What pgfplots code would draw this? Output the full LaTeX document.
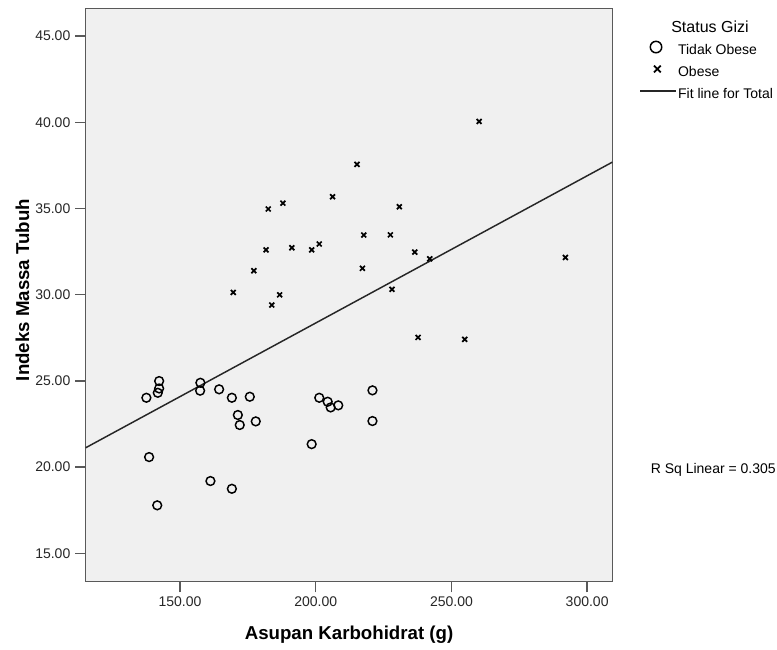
\documentclass[border=0pt]{standalone}
\usepackage{fontspec}
\setmainfont{Liberation Sans}
\usepackage{pgfplots}
\pgfplotsset{compat=1.18}
\begin{document}
\begin{tikzpicture}
\path[use as bounding box] (-64.275pt,-50.475pt) rectangle (518.475pt,436.275pt);
\begin{axis}[
  at={(0pt,0pt)}, anchor=south west,
  scale only axis, width=395pt, height=430pt,
  xmin=115.24, xmax=309.3, ymin=13.35, ymax=46.61,
  clip=false,
  xtick={150,200,250,300}, ytick={15,20,25,30,35,40,45},
  tick pos=left,
  scaled ticks=false,
  tick align=outside, major tick length=8pt,
  tick style={line width=1pt, color=black!65},
  axis line style={line width=1pt, color=black!65},
  axis background/.style={fill=black!6},
  ticklabel style={font=\fontsize{10.5}{12}\selectfont, text=black!85},
  /pgf/number format/fixed, /pgf/number format/fixed zerofill,
  /pgf/number format/precision=2, /pgf/number format/assume math mode=true,
  xlabel={Asupan Karbohidrat (g)},
  ylabel={Indeks Massa Tubuh},
  label style={font=\fontsize{14}{16}\selectfont\bfseries},
  xlabel style={at={(axis description cs:0.5,0)}, anchor=base, yshift=-43.7pt},
  ylabel style={at={(axis description cs:-0.1076,0.5088)}, anchor=base},
  legend style={at={(axis description cs:1.0506,0.943)}, anchor=north west,
    draw=none, fill=none, inner sep=0pt, row sep=4.5pt,
    font=\fontsize{10.5}{12}\selectfont,
    nodes={inner sep=1pt, text height=7.5pt, text depth=2.5pt},
    cells={anchor=west}},
]
\addplot[only marks, mark=o, mark size=3.3pt, mark options={line width=1.1pt, black},
  legend image code/.code={\path (0pt,0pt) (27pt,0pt);
    \draw[black, line width=0.9pt] plot[mark=o, mark size=4.3pt] coordinates {(12pt,3pt)};}]
coordinates {
(142.3,24.99) (142.3,24.56) (141.8,24.31) (137.6,24.02) (157.5,24.89) (157.4,24.43)
(164.4,24.51) (169.1,24.02) (175.7,24.08) (171.3,23.02) (172.0,22.44) (177.9,22.65)
(201.3,24.02) (204.4,23.79) (205.5,23.46) (208.3,23.58) (220.9,24.45) (220.9,22.67)
(198.5,21.33) (138.6,20.58) (161.2,19.19) (169.1,18.74) (141.6,17.78)
};
\addplot[only marks, mark=x, mark size=2.6pt, mark options={line width=1.3pt, black},
  legend image code/.code={\path (0pt,0pt) (27pt,0pt);
    \draw[black, line width=1pt] plot[mark=x, mark size=3.6pt] coordinates {(13pt,3pt)};}]
coordinates {
(182.5,34.97) (187.9,35.31) (206.2,35.68) (181.7,32.60) (191.2,32.72) (198.5,32.60)
(201.3,32.94) (177.2,31.39) (169.6,30.13) (186.7,29.99) (183.8,29.40) (260.2,40.05)
(215.2,37.56) (230.8,35.10) (217.7,33.46) (227.5,33.47) (236.5,32.47) (242.0,32.08)
(292.0,32.16) (217.2,31.53) (228.1,30.31) (237.7,27.52) (254.9,27.41)
};
\addplot[no marks, line width=1.1pt, black!85,
  legend image code/.code={\draw[black!85, line width=1.1pt] (0pt,3pt) -- (27pt,3pt);}]
coordinates {(115.24,21.12) (309.3,37.69)};
\legend{Tidak Obese, Obese, Fit line for Total}
\end{axis}
\node[font=\fontsize{12}{14}\selectfont] at (468.2pt,416pt) {Status Gizi};
\node[anchor=east, font=\fontsize{10.5}{12}\selectfont, inner sep=0pt] at (517.7pt,83.8pt) {R Sq Linear = 0.305};
\end{tikzpicture}
\end{document}
